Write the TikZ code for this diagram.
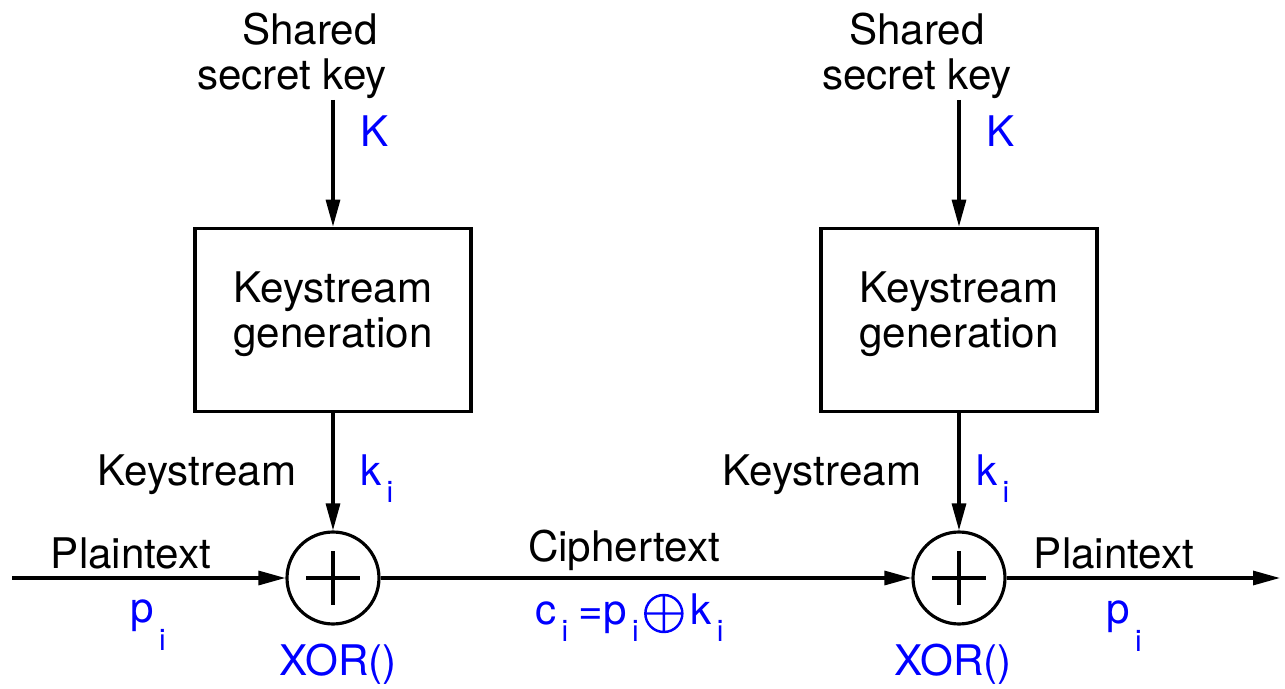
\documentclass[tikz,border=0pt]{standalone}
\usepackage{fontspec}
\setmainfont{TeX Gyre Heros}
\usetikzlibrary{positioning,arrows.meta}

\newcommand{\lowsub}[2][10pt]{\hspace{3pt}\raisebox{-#1}{\fontsize{17}{17}\selectfont #2}}
\newcommand{\xorsym}{\tikz[baseline=-0.21cm]\draw[blue, line width=1.4pt] (0,0) circle (0.37cm) (-0.37cm,0) -- (0.37cm,0) (0,-0.37cm) -- (0,0.37cm);}

\begin{document}
\begin{tikzpicture}[x=0.02cm, y=-0.02cm, font=\fontsize{24}{25.6}\selectfont,
  keybox/.style={draw, rectangle, line width=2.1pt, minimum width=5.52cm, minimum height=3.66cm, align=center, text depth=0.42cm},
  xorc/.style={draw, circle, line width=1.8pt, minimum size=1.84cm, inner sep=0pt},
  lbl/.style={anchor=base, inner sep=0pt},
  bluelbl/.style={anchor=base west, inner sep=0pt, text=blue},
  flow/.style={line width=1.8pt, -{Triangle[length=0.54cm, width=0.28cm]}}]
  \useasboundingbox (0,0) rectangle (1285,689);

  % sender side
  \node[lbl] (shared1) at (310,45) {Shared};
  \node[lbl] (secret1) at (292,90) {secret key};
  \node[bluelbl] (K1) at (360,147) {K};
  \coordinate (key1) at (333,100);
  \node[keybox] (gen1) at (333,320) {Keystream\\generation};
  \node[lbl] (ks1) at (197,485) {Keystream};
  \node[bluelbl] (k1) at (360,485) {k\lowsub{i}};
  \node[xorc] (xor1) at (333,578) {};
  \coordinate (in) at (12,578);
  \node[lbl] (plain1) at (131,568) {Plaintext};
  \node[bluelbl] (p1) at (130,622) {p\lowsub[16pt]{i}};
  \node[lbl, text=blue] (xorlbl1) at (338,675) {XOR()};

  % channel
  \node[lbl] (cipher) at (624,561) {Ciphertext};
  \node[bluelbl] (eq) at (535,624) {c\lowsub{i}\hspace{6pt}=p\lowsub{i}\hspace{3pt}\xorsym\hspace{4pt}k\lowsub{i}};

  % receiver side
  \node[lbl] (shared2) at (917,45) {Shared};
  \node[lbl] (secret2) at (917,90) {secret key};
  \node[bluelbl] (K2) at (986,147) {K};
  \coordinate (key2) at (959,100);
  \node[keybox] (gen2) at (959,320) {Keystream\\generation};
  \node[lbl] (ks2) at (822,485) {Keystream};
  \node[bluelbl] (k2) at (976,485) {k\lowsub{i}};
  \node[xorc] (xor2) at (959,578) {};
  \node[lbl] (plain2) at (1114,568) {Plaintext};
  \node[bluelbl] (p2) at (1106,623) {p\lowsub[16pt]{i}};
  \node[lbl, text=blue] (xorlbl2) at (953,675) {XOR()};
  \coordinate (out) at (1280,578);

  \foreach \x in {xor1,xor2}
    \draw[line width=1.8pt] (\x.center) ++(-27,0) -- ++(54,0) (\x.center) ++(0,-27) -- ++(0,54);

  \draw[flow] (key1) -- (gen1.north);
  \draw[flow] (gen1.south) -- (xor1.north);
  \draw[flow] (key2) -- (gen2.north);
  \draw[flow] (gen2.south) -- (xor2.north);
  \draw[flow] (in) -- (xor1.west);
  \draw[flow] (xor1.east) -- (xor2.west);
  \draw[flow] (xor2.east) -- (out);
\end{tikzpicture}
\end{document}
